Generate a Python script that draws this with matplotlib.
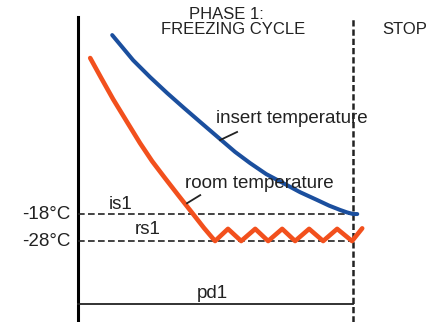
import matplotlib.pyplot as plt

plt.rcParams['font.family'] = ['Liberation Sans', 'DejaVu Sans']

# time in % of the freezing phase, temperature in degC
insert_t = [12.4, 16.0, 20.0, 26.2, 32.4, 38.5, 44.4, 51.6, 57.1, 62.5,
            68.4, 74.5, 80.7, 86.9, 91.3, 95.3, 97.8, 100.0, 101.5]
insert_T = [48.3, 43.9, 39.0, 32.7, 26.8, 21.3, 16.1, 9.8, 5.0, 0.9,
            -3.2, -6.5, -9.9, -12.8, -14.9, -16.5, -17.4, -18.0, -18.0]

room_t = [4.4, 8.4, 12.7, 17.8, 22.5, 26.9, 31.6, 36.4, 41.5, 45.8, 49.8,
          54.5, 59.3, 64.4, 69.1, 74.2, 78.9, 84.0, 89.1, 94.2, 99.6, 103.3]
room_T = [39.8, 32.4, 24.6, 16.1, 8.3, 1.6, -4.7, -11.0, -17.6, -23.2, -28.0,
          -23.5, -28.0, -23.5, -28.0, -23.5, -28.0, -23.5, -28.0, -23.5, -28.0, -23.3]

is1 = -18
rs1 = -28
stop_t = 100
pd1_level = -51.4

blue = '#1b4f9e'
red = '#f2501d'
ink = '#222222'
fs = 13.5
fs_head = 12

fig = plt.figure(figsize=(4.48, 3.22), dpi=100)
ax = fig.add_axes([0, 0, 1, 1])
ax.set_xlim(-28.4, 134.5)
ax.set_ylim(-58, 61.3)
ax.axis('off')

# time axis and end of phase
ax.plot([0, 0], [-58, 55], color='black', lw=2.2)
ax.plot([stop_t, stop_t], [-58, 55], color=ink, lw=1.8, dashes=(2.5, 1.2))

# set points
for lvl in (is1, rs1):
    ax.plot([0, stop_t], [lvl, lvl], color=ink, lw=1.2, dashes=(4, 2))
ax.plot([0, stop_t], [pd1_level, pd1_level], color=ink, lw=1.3)

ax.plot(insert_t, insert_T, color=blue, lw=2.9, solid_capstyle='round',
        solid_joinstyle='round')
ax.plot(room_t, room_T, color=red, lw=3.3, solid_capstyle='round',
        solid_joinstyle='round')

# leader lines
ax.plot([57.8, 51.6], [12.4, 9.4], color=ink, lw=1.3)
ax.plot([44.4, 39.6], [-11.0, -14.0], color=ink, lw=1.3)

ax.text(53.8, 54.2, 'PHASE 1:', ha='center', va='baseline', fontsize=fs_head, color=ink)
ax.text(56.4, 48.7, 'FREEZING CYCLE', ha='center', va='baseline', fontsize=fs_head, color=ink)
ax.text(118.9, 48.7, 'STOP', ha='center', va='baseline', fontsize=fs_head, color=ink)

ax.text(50.2, 15.7, 'insert temperature', ha='left', va='baseline', fontsize=fs, color=ink)
ax.text(38.9, -8.2, 'room temperature', ha='left', va='baseline', fontsize=fs, color=ink)

ax.text(15.6, -16.1, 'is1', ha='center', va='baseline', fontsize=fs, color=ink)
ax.text(25.3, -25.4, 'rs1', ha='center', va='baseline', fontsize=fs, color=ink)
ax.text(48.9, -49.1, 'pd1', ha='center', va='baseline', fontsize=fs, color=ink)

ax.text(-2.9, is1 - 1.8, '-18°C', ha='right', va='baseline', fontsize=fs, color=ink)
ax.text(-2.9, rs1 - 1.8, '-28°C', ha='right', va='baseline', fontsize=fs, color=ink)

fig.savefig('out.png', dpi=100)
